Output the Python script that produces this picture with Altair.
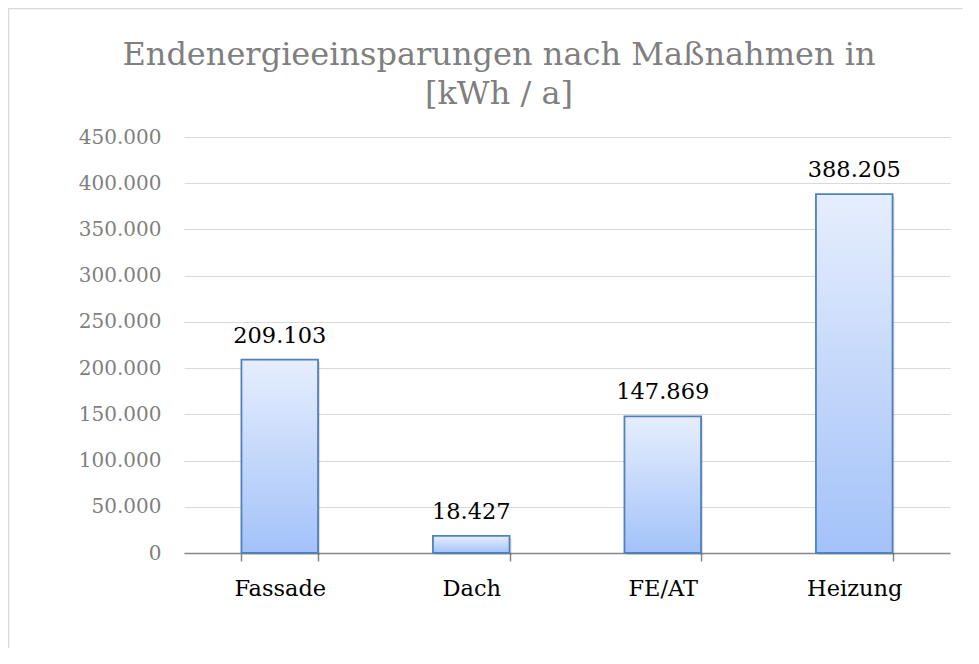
import altair as alt
import pandas as pd

categories = ["Fassade", "Dach", "FE/AT", "Heizung"]
values = [209103, 18427, 147869, 388205]
y_ticks = [0, 50000, 100000, 150000, 200000, 250000, 300000, 350000, 400000, 450000]
title_lines = ["Endenergieeinsparungen nach Maßnahmen in", "[kWh / a]"]

df = pd.DataFrame({"cat": categories, "val": values})
FONT = "DejaVu Serif"
DE_FMT = "replace(format({v}, ',d'), regexp(',', 'g'), '.')"

x_enc = alt.X(
    "cat:N",
    sort=categories,
    scale=alt.Scale(paddingInner=0.6, paddingOuter=0.3),
    axis=alt.Axis(
        title=None,
        labelAngle=0,
        labelFont=FONT,
        labelFontSize=22.5,
        labelColor="#000000",
        labelAlign="center",
        labelBaseline="alphabetic",
        labelPadding=34,
        tickBand="extent",
        tickSize=8,
        tickColor="#868686",
        tickWidth=1.5,
        domainColor="#868686",
        domainWidth=1.5,
        grid=False,
    ),
)
y_enc = alt.Y(
    "val:Q",
    scale=alt.Scale(domain=[0, 450000], nice=False),
    axis=alt.Axis(
        title=None,
        values=y_ticks,
        labelExpr=DE_FMT.format(v="datum.value"),
        labelFont=FONT,
        labelFontSize=20,
        labelColor="#7f7f7f",
        labelPadding=23,
        ticks=False,
        domain=False,
        gridColor="#d9d9d9",
        gridWidth=1.2,
    ),
)

base = alt.Chart(df)

border = base.transform_filter(alt.datum.cat == "Fassade").mark_rect(
    fill="transparent", stroke="#d9d9d9", strokeWidth=1.5
).encode(
    x=alt.value(-175.5), x2=alt.value(900), y=alt.value(-128.5), y2=alt.value(700)
)

shadow = base.mark_bar(
    color="#000000", opacity=0.12, xOffset=2, yOffset=2
).encode(x=x_enc, y=y_enc)

bars = base.mark_bar(
    color=alt.Gradient(
        gradient="linear",
        stops=[
            alt.GradientStop(color="#E6EEFD", offset=0),
            alt.GradientStop(color="#A3C2F9", offset=1),
        ],
        x1=0, x2=0, y1=0, y2=1,
    ),
    stroke="#4F81BD",
    strokeWidth=1.8,
).encode(x=x_enc, y=y_enc)

labels = base.transform_calculate(
    lab=DE_FMT.format(v="datum.val")
).mark_text(
    font=FONT, fontSize=22.5, color="#000000", baseline="alphabetic", dy=-17
).encode(x=x_enc, y=y_enc, text="lab:N")

chart = (
    alt.layer(border, shadow, bars, labels)
    .properties(
        width=766,
        height=416,
        autosize=alt.AutoSizeParams(type="none"),
        padding={"left": 176, "top": 129, "right": 13, "bottom": 95},
        title=alt.TitleParams(
            text=title_lines,
            font=FONT,
            fontSize=32,
            fontWeight="normal",
            color="#7f7f7f",
            anchor="middle",
            frame="group",
            baseline="alphabetic",
            dx=-68,
            dy=128,
            offset=0,
            lineHeight=39,
        ),
    )
    .configure(background="white")
    .configure_view(stroke=None)
)

chart.save("out.html", embed_options={"renderer": "svg", "actions": False})
